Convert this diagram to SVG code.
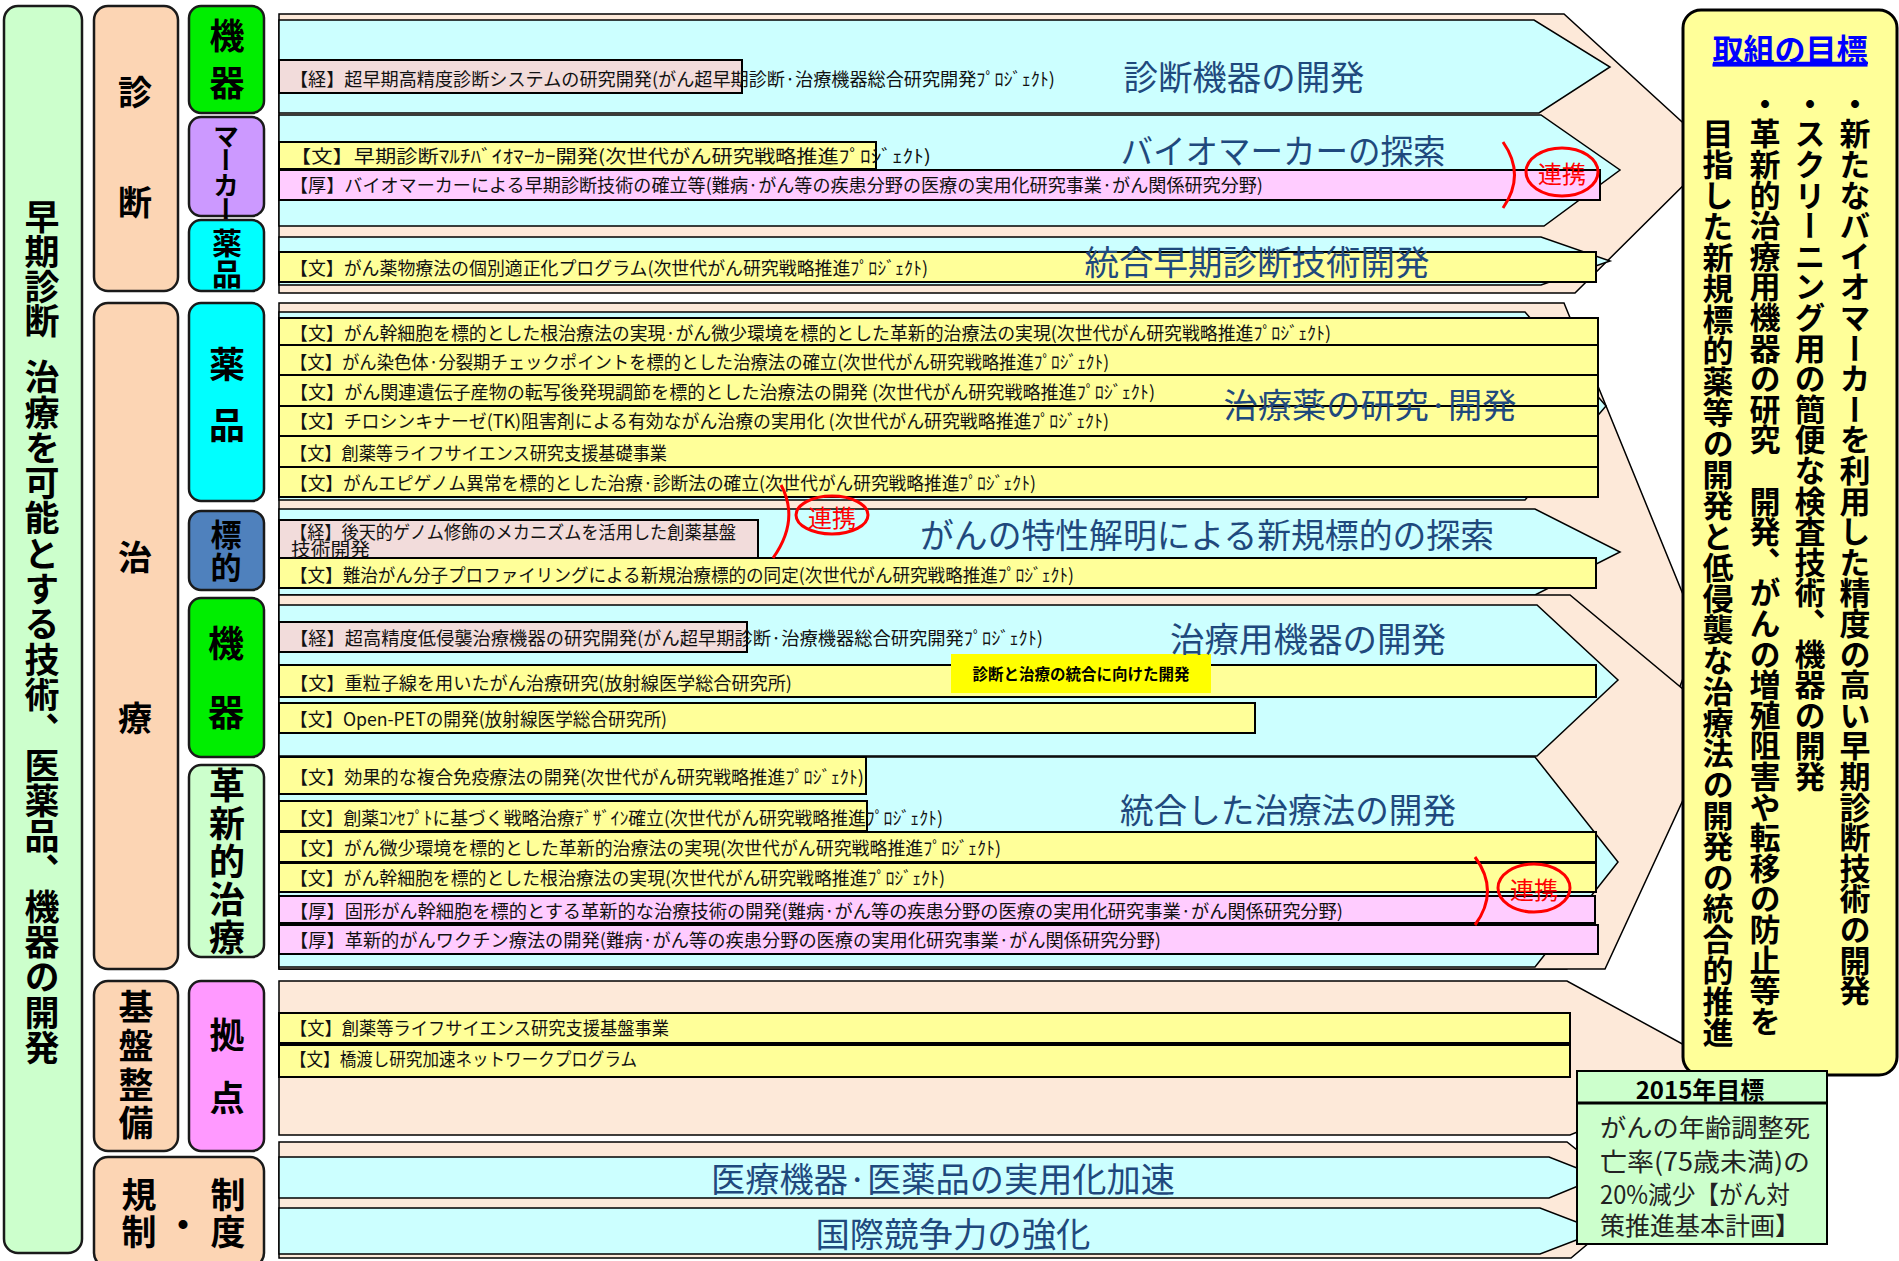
<svg xmlns="http://www.w3.org/2000/svg" width="1899" height="1261" viewBox="0 0 1899 1261">
<style>
.pe{fill:#fde9d9;stroke:#000;stroke-width:1.5}
.cy{fill:#ccffff;stroke:#000;stroke-width:1.5}
.ye{fill:#ffff99;stroke:#000;stroke-width:2}
.pk{fill:#ffccff;stroke:#000;stroke-width:2}
.be{fill:#f2dcdb;stroke:#000;stroke-width:2}
.bx{stroke:#1a1a1a;stroke-width:2.5}
.bt{font-family:"Noto Sans CJK JP","Noto Sans CJK SC",sans-serif;font-size:18px;fill:#111;dominant-baseline:central}
.big{font-family:"Noto Sans CJK JP","Noto Sans CJK SC",sans-serif;font-size:34px;fill:#1f497d;text-anchor:middle;dominant-baseline:central}
.vl{font-family:"Noto Sans CJK JP","Noto Sans CJK SC",sans-serif;font-weight:700;fill:#000;writing-mode:vertical-rl}
.hl{font-family:"Noto Sans CJK JP","Noto Sans CJK SC",sans-serif;font-weight:700;fill:#000;text-anchor:middle;dominant-baseline:central}
.rk{fill:none;stroke:#ff0000;stroke-width:3}
.rt{font-family:"Noto Sans CJK JP","Noto Sans CJK SC",sans-serif;font-size:24px;fill:#ff0000;text-anchor:middle;dominant-baseline:central}
</style>

<!-- Left column -->
<g id="main-goal">
<rect class="bx" x="4" y="6" width="78" height="1247" rx="14" fill="#ccffcc"/>
<text class="vl" x="42" y="199.5" font-size="35" letter-spacing="-0.3">早期診断</text>
<text class="vl" x="42" y="359.5" font-size="35" letter-spacing="0.3">治療を可能とする技術、医薬品、機器の開発</text>
</g>
<g id="diag">
<rect class="bx" x="94" y="6" width="84" height="285" rx="14" fill="#fcd5b4"/>
<text class="vl" x="135" y="75" font-size="34" letter-spacing="76">診断</text>
</g>
<g id="treat">
<rect class="bx" x="94" y="303" width="84" height="666" rx="14" fill="#fcd5b4"/>
<text class="vl" x="135" y="540" font-size="34" letter-spacing="127">治療</text>
</g>
<g id="kiban">
<rect class="bx" x="94" y="981" width="84" height="170" rx="14" fill="#fcd5b4"/>
<text class="vl" x="136" y="989.5" font-size="35" letter-spacing="3.7">基盤整備</text>
</g>
<g id="kisei">
<rect class="bx" x="94" y="1157" width="170" height="110" rx="14" fill="#fcd5b4"/>
<text class="hl" font-size="35"><tspan x="139" y="1192">規</tspan><tspan x="139" y="1229">制</tspan><tspan x="183" y="1222">・</tspan><tspan x="228" y="1192">制</tspan><tspan x="228" y="1229">度</tspan></text>
</g>
<g id="diag-kiki">
<rect class="bx" x="189" y="6" width="75" height="107" rx="12" fill="#00ee00"/>
<text class="vl" x="227" y="18.5" font-size="35" letter-spacing="12">機器</text>
</g>
<g id="diag-marker">
<rect class="bx" x="189" y="117" width="75" height="99" rx="12" fill="#cc99ff"/>
<text class="vl" x="226" y="123" font-size="26" letter-spacing="-1.5">マーカー</text>
</g>
<g id="diag-yakuhin">
<rect class="bx" x="189" y="220" width="75" height="71" rx="12" fill="#00ffff"/>
<text class="vl" x="227" y="228" font-size="30" letter-spacing="1">薬品</text>
</g>
<g id="treat-yakuhin">
<rect class="bx" x="189" y="303" width="75" height="198" rx="12" fill="#00ffff"/>
<text class="vl" x="227" y="346" font-size="36" letter-spacing="25">薬品</text>
</g>
<g id="treat-hyoteki">
<rect class="bx" x="189" y="511" width="75" height="79" rx="12" fill="#4f81bd"/>
<text class="vl" x="226" y="519" font-size="31" letter-spacing="2">標的</text>
</g>
<g id="treat-kiki">
<rect class="bx" x="189" y="598" width="75" height="159" rx="12" fill="#00ee00"/>
<text class="vl" x="226" y="625" font-size="36" letter-spacing="33">機器</text>
</g>
<g id="treat-kakushin">
<rect class="bx" x="189" y="765" width="75" height="192" rx="12" fill="#ccffcc"/>
<text class="vl" x="227" y="767" font-size="36" letter-spacing="2">革新的治療</text>
</g>
<g id="kyoten">
<rect class="bx" x="189" y="981" width="75" height="170" rx="12" fill="#ff99ff"/>
<text class="vl" x="227" y="1017.5" font-size="35" letter-spacing="28">拠点</text>
</g>

<!-- Arrows -->
<g id="sec-diag">
<polygon class="pe" points="279,14 1564,14 1716,153 1575,293 279,293"/>
<polygon class="cy" points="279,20 1534,20 1610,67 1539,113 279,113"/>
<polygon class="cy" points="279,115 1541,115 1620,170 1544,226 279,226"/>
<polygon class="cy" points="279,237 1541,237 1610,261 1541,285 279,285"/>
<rect class="be" x="279" y="60" width="463" height="33"/>
<rect class="ye" x="279" y="142" width="597" height="27"/>
<rect class="pk" x="279" y="170" width="1321" height="30"/>
<rect class="ye" x="279" y="252" width="1317" height="30"/>
<text class="bt" x="290" y="78" textLength="765" lengthAdjust="spacingAndGlyphs">【経】超早期高精度診断システムの研究開発(がん超早期診断·治療機器総合研究開発ﾌﾟﾛｼﾞｪｸﾄ)</text>
<text class="bt" x="290" y="155" textLength="641" lengthAdjust="spacingAndGlyphs">【文】早期診断ﾏﾙﾁﾊﾞｲｵﾏｰｶｰ開発(次世代がん研究戦略推進ﾌﾟﾛｼﾞｪｸﾄ)</text>
<text class="bt" x="290" y="184" textLength="973" lengthAdjust="spacingAndGlyphs">【厚】バイオマーカーによる早期診断技術の確立等(難病·がん等の疾患分野の医療の実用化研究事業·がん関係研究分野)</text>
<text class="bt" x="290" y="267" textLength="638" lengthAdjust="spacingAndGlyphs">【文】がん薬物療法の個別適正化プログラム(次世代がん研究戦略推進ﾌﾟﾛｼﾞｪｸﾄ)</text>
<text class="big" x="1244" y="75" textLength="241" lengthAdjust="spacingAndGlyphs">診断機器の開発</text>
<text class="big" x="1283" y="149" textLength="325" lengthAdjust="spacingAndGlyphs">バイオマーカーの探索</text>
<text class="big" x="1257" y="260" textLength="345" lengthAdjust="spacingAndGlyphs">統合早期診断技術開発</text>
</g>

<g id="sec-treat">
<polygon class="pe" points="279,303 1564,303 1700,636 1567,969 279,969"/>
<polygon class="cy" points="279,312 1525,312 1606,406 1525,500 279,500"/>
<polygon class="cy" points="279,509 1535,509 1620,552 1535,595 279,595"/>
<polygon class="pe" points="279,595 1570,595 1720,720 1605,969 279,969"/>
<polygon class="cy" points="279,605 1537,605 1618,680 1537,756 279,756"/>
<polygon class="cy" points="279,757 1535,757 1618,862 1535,967 279,967"/>
<rect class="ye" x="279" y="318" width="1319" height="27"/>
<rect class="ye" x="279" y="345" width="1319" height="30"/>
<rect class="ye" x="279" y="375" width="1319" height="31"/>
<rect class="ye" x="279" y="406" width="1319" height="30"/>
<rect class="ye" x="279" y="436" width="1319" height="31"/>
<rect class="ye" x="279" y="467" width="1319" height="30"/>
<rect class="be" x="279" y="520" width="479" height="38"/>
<rect class="ye" x="279" y="558" width="1317" height="30"/>
<rect class="be" x="279" y="622" width="468" height="30"/>
<rect class="ye" x="279" y="665" width="1317" height="32"/>
<rect class="ye" x="279" y="703" width="976" height="30"/>
<rect class="ye" x="279" y="757" width="587" height="37"/>
<rect class="ye" x="279" y="801" width="588" height="30"/>
<rect class="ye" x="279" y="832" width="1317" height="30"/>
<rect class="ye" x="279" y="863" width="1317" height="29"/>
<rect class="pk" x="279" y="896" width="1316" height="27"/>
<rect class="pk" x="279" y="925" width="1319" height="29"/>
<rect x="951" y="654" width="260" height="39" fill="#ffff00"/>
<text class="bt" x="290" y="332" textLength="1041" lengthAdjust="spacingAndGlyphs">【文】がん幹細胞を標的とした根治療法の実現·がん微少環境を標的とした革新的治療法の実現(次世代がん研究戦略推進ﾌﾟﾛｼﾞｪｸﾄ)</text>
<text class="bt" x="290" y="361" textLength="819" lengthAdjust="spacingAndGlyphs">【文】がん染色体·分裂期チェックポイントを標的とした治療法の確立(次世代がん研究戦略推進ﾌﾟﾛｼﾞｪｸﾄ)</text>
<text class="bt" x="290" y="391" textLength="865" lengthAdjust="spacingAndGlyphs">【文】がん関連遺伝子産物の転写後発現調節を標的とした治療法の開発 (次世代がん研究戦略推進ﾌﾟﾛｼﾞｪｸﾄ)</text>
<text class="bt" x="290" y="420" textLength="819" lengthAdjust="spacingAndGlyphs">【文】チロシンキナーゼ(TK)阻害剤による有効ながん治療の実用化 (次世代がん研究戦略推進ﾌﾟﾛｼﾞｪｸﾄ)</text>
<text class="bt" x="290" y="452" textLength="377" lengthAdjust="spacingAndGlyphs">【文】創薬等ライフサイエンス研究支援基礎事業</text>
<text class="bt" x="290" y="482" textLength="746" lengthAdjust="spacingAndGlyphs">【文】がんエピゲノム異常を標的とした治療·診断法の確立(次世代がん研究戦略推進ﾌﾟﾛｼﾞｪｸﾄ)</text>
<text class="bt" x="290" y="531" font-size="17" textLength="446" lengthAdjust="spacingAndGlyphs">【経】後天的ゲノム修飾のメカニズムを活用した創薬基盤</text>
<text class="bt" x="291" y="548" font-size="17" textLength="79" lengthAdjust="spacingAndGlyphs">技術開発</text>
<text class="bt" x="290" y="574" textLength="784" lengthAdjust="spacingAndGlyphs">【文】難治がん分子プロファイリングによる新規治療標的の同定(次世代がん研究戦略推進ﾌﾟﾛｼﾞｪｸﾄ)</text>
<text class="bt" x="290" y="637" textLength="753" lengthAdjust="spacingAndGlyphs">【経】超高精度低侵襲治療機器の研究開発(がん超早期診断·治療機器総合研究開発ﾌﾟﾛｼﾞｪｸﾄ)</text>
<text class="bt" x="290" y="682" textLength="502" lengthAdjust="spacingAndGlyphs">【文】重粒子線を用いたがん治療研究(放射線医学総合研究所)</text>
<text class="bt" x="290" y="718" textLength="377" lengthAdjust="spacingAndGlyphs">【文】Open-PETの開発(放射線医学総合研究所)</text>
<text class="bt" x="290" y="776" textLength="574" lengthAdjust="spacingAndGlyphs">【文】効果的な複合免疫療法の開発(次世代がん研究戦略推進ﾌﾟﾛｼﾞｪｸﾄ)</text>
<text class="bt" x="290" y="817" textLength="653" lengthAdjust="spacingAndGlyphs">【文】創薬ｺﾝｾﾌﾟﾄに基づく戦略治療ﾃﾞｻﾞｲﾝ確立(次世代がん研究戦略推進ﾌﾟﾛｼﾞｪｸﾄ)</text>
<text class="bt" x="290" y="847" textLength="711" lengthAdjust="spacingAndGlyphs">【文】がん微少環境を標的とした革新的治療法の実現(次世代がん研究戦略推進ﾌﾟﾛｼﾞｪｸﾄ)</text>
<text class="bt" x="290" y="877" textLength="655" lengthAdjust="spacingAndGlyphs">【文】がん幹細胞を標的とした根治療法の実現(次世代がん研究戦略推進ﾌﾟﾛｼﾞｪｸﾄ)</text>
<text class="bt" x="290" y="910" textLength="1053" lengthAdjust="spacingAndGlyphs">【厚】固形がん幹細胞を標的とする革新的な治療技術の開発(難病·がん等の疾患分野の医療の実用化研究事業·がん関係研究分野)</text>
<text class="bt" x="290" y="939" textLength="871" lengthAdjust="spacingAndGlyphs">【厚】革新的がんワクチン療法の開発(難病·がん等の疾患分野の医療の実用化研究事業·がん関係研究分野)</text>
<text class="hl" x="1081" y="673" font-size="15.5" textLength="217" lengthAdjust="spacingAndGlyphs">診断と治療の統合に向けた開発</text>
<text class="big" x="1370" y="403" textLength="293" lengthAdjust="spacingAndGlyphs">治療薬の研究·開発</text>
<text class="big" x="1207" y="533" textLength="574" lengthAdjust="spacingAndGlyphs">がんの特性解明による新規標的の探索</text>
<text class="big" x="1308" y="637" textLength="276" lengthAdjust="spacingAndGlyphs">治療用機器の開発</text>
<text class="big" x="1288" y="808" textLength="336" lengthAdjust="spacingAndGlyphs">統合した治療法の開発</text>
</g>

<g id="sec-kiban">
<polygon class="pe" points="279,981 1567,981 1730,1070 1570,1135 279,1135"/>
<rect class="ye" x="279" y="1013" width="1291" height="30"/>
<rect class="ye" x="279" y="1045" width="1291" height="32"/>
<text class="bt" x="290" y="1027" textLength="379" lengthAdjust="spacingAndGlyphs">【文】創薬等ライフサイエンス研究支援基盤事業</text>
<text class="bt" x="290" y="1058" textLength="347" lengthAdjust="spacingAndGlyphs">【文】橋渡し研究加速ネットワークプログラム</text>
</g>

<g id="sec-kisei">
<polygon class="pe" points="279,1142 1567,1142 1640,1200 1571,1258 279,1258"/>
<polygon class="cy" points="279,1157 1549,1157 1600,1177 1549,1198 279,1198"/>
<polygon class="cy" points="279,1208 1540,1208 1600,1231 1540,1254 279,1254"/>
<text class="big" x="943" y="1177" textLength="464" lengthAdjust="spacingAndGlyphs">医療機器·医薬品の実用化加速</text>
<text class="big" x="953" y="1232" textLength="275" lengthAdjust="spacingAndGlyphs">国際競争力の強化</text>
</g>

<!-- connectors: 連携 links -->
<g id="links">
<path class="rk" d="M1503,142 Q1526,175 1503,208"/>
<ellipse class="rk" cx="1562" cy="172" rx="36" ry="24"/>
<text class="rt" x="1562" y="172">連携</text>
<path class="rk" d="M781,485 Q800,520 773,558"/>
<ellipse class="rk" cx="832" cy="515" rx="36" ry="19"/>
<text class="rt" x="832" y="516">連携</text>
<path class="rk" d="M1475,857 Q1500,891 1475,925"/>
<ellipse class="rk" cx="1534" cy="888" rx="36" ry="24"/>
<text class="rt" x="1534" y="888">連携</text>
</g>

<g id="goals">
<rect x="1683" y="10" width="214" height="1065" rx="18" fill="#ffff99" stroke="#000" stroke-width="3"/>
<text x="1790" y="47" font-family="Noto Sans CJK JP, sans-serif" font-weight="700" font-size="31" fill="#0000ff" text-anchor="middle" dominant-baseline="central" text-decoration="underline">取組の目標</text>
<line x1="1713" y1="63" x2="1868" y2="63" stroke="#0000ff" stroke-width="2.5"/>
<text class="vl" x="1855" y="87.5" font-size="31" letter-spacing="-0.4">・新たなバイオマーカーを利用した精度の高い早期診断技術の開発</text>
<text class="vl" x="1810" y="87.5" font-size="31" letter-spacing="-0.4">・スクリーニング用の簡便な検査技術、機器の開発</text>
<text class="vl" x="1765" y="87.5" font-size="31" letter-spacing="-0.4">・革新的治療用機器の研究　開発、がんの増殖阻害や転移の防止等を</text>
<text class="vl" x="1718" y="117.5" font-size="31" letter-spacing="0">目指した新規標的薬等の開発と低侵襲な治療法の開発の統合的推進</text>
</g>

<g id="target2015">
<rect x="1577" y="1071" width="250" height="173" fill="#ccffcc" stroke="#000" stroke-width="2"/>
<line x1="1577" y1="1103" x2="1827" y2="1103" stroke="#000" stroke-width="3"/>
<text class="hl" x="1700" y="1088" font-size="24">2015年目標</text>
<g font-family="Noto Sans CJK JP, sans-serif" font-size="25" fill="#222" dominant-baseline="central">
<text x="1600" y="1126" textLength="210" lengthAdjust="spacingAndGlyphs">がんの年齢調整死</text>
<text x="1600" y="1160" textLength="210" lengthAdjust="spacingAndGlyphs">亡率(75歳未満)の</text>
<text x="1600" y="1193" textLength="190" lengthAdjust="spacingAndGlyphs">20%減少【がん対</text>
<text x="1600" y="1224" textLength="200" lengthAdjust="spacingAndGlyphs">策推進基本計画】</text>
</g>
</g>
</svg>
